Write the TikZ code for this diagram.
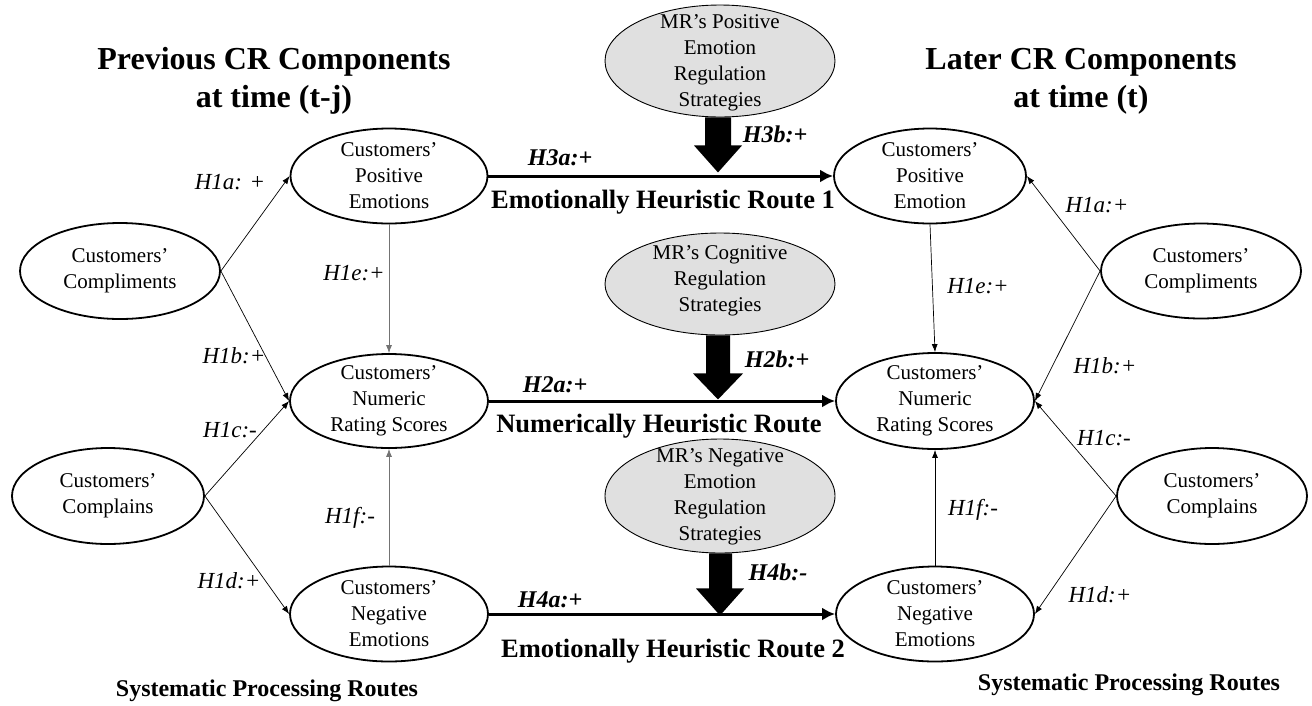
\documentclass[tikz,border=0pt]{standalone}
\usepackage{fontspec}
\setmainfont{Liberation Serif}
\usetikzlibrary{arrows.meta,shapes.geometric,calc}
\begin{document}
\begin{tikzpicture}[x=1pt,y=-1pt,
  ell/.style={draw,ellipse,line width=1.8pt,inner sep=0pt},
  mr/.style={draw,ellipse,line width=0.9pt,fill=black!12,inner sep=0pt},
  etext/.style={align=center,font=\fontsize{21}{26}\selectfont,inner sep=0pt},
  thinarr/.style={line width=0.7pt,-{Latex[length=8pt,width=6pt]}},
  vthinarr/.style={thinarr,draw=black!55},
  thickarr/.style={line width=3pt,-{Latex[length=13pt,width=13pt]}},
  hyp/.style={font=\fontsize{23}{26}\selectfont\itshape,inner sep=0pt,anchor=base},
  hypb/.style={font=\fontsize{24}{26}\selectfont\bfseries\itshape,inner sep=0pt,anchor=base},
  route/.style={font=\fontsize{26.5}{30}\selectfont\bfseries,inner sep=0pt,anchor=base},
  ttl/.style={font=\fontsize{32}{38}\selectfont\bfseries,align=center,inner sep=0pt},
  sys/.style={font=\fontsize{24}{28}\selectfont\bfseries,inner sep=0pt,anchor=base},
]
\useasboundingbox (0,0) rectangle (1312,705);

% titles
\node[ttl] (ttlL) at (274,81) {Previous CR Components\\at time (t-j)};
\node[ttl] (ttlR) at (1081,81) {Later CR Components\\at time (t)};

% left ellipses
\node[ell,minimum width=200pt,minimum height=96pt] (lcomp) at (120,271) {};
\node[etext] at (lcomp) {Customers’\\Compliments};
\node[ell,minimum width=192pt,minimum height=96pt] (lcompl) at (108,496) {};
\node[etext] at (lcompl) {Customers’\\Complains};
\node[ell,minimum width=197pt,minimum height=95pt] (lpos) at (389,176) {};
\node[etext] at (lpos) {Customers’\\Positive\\Emotions};
\node[ell,minimum width=198pt,minimum height=94pt] (lnum) at (389,401) {};
\node[etext] at (lnum) {Customers’\\Numeric\\Rating Scores};
\node[ell,minimum width=198pt,minimum height=95pt] (lneg) at (389,614) {};
\node[etext] at (lneg) {Customers’\\Negative\\Emotions};

% MR ellipses
\node[mr,minimum width=230pt,minimum height=112pt] (mrpos) at (720,61) {};
\node[etext] at (720,63) {MR’s Positive\\Emotion\\Regulation\\Strategies};
\node[mr,minimum width=230pt,minimum height=102pt] (mrcog) at (720,284) {};
\node[etext] at (720,281) {MR’s Cognitive\\Regulation\\Strategies};
\node[mr,minimum width=230pt,minimum height=114pt] (mrneg) at (720,496) {};
\node[etext] at (720,497) {MR’s Negative\\Emotion\\Regulation\\Strategies};

% right ellipses
\node[ell,minimum width=192pt,minimum height=95pt] (rpos) at (930,176) {};
\node[etext] at (rpos) {Customers’\\Positive\\Emotion};
\node[ell,minimum width=198pt,minimum height=96pt] (rnum) at (935,401) {};
\node[etext] at (rnum) {Customers’\\Numeric\\Rating Scores};
\node[ell,minimum width=198pt,minimum height=95pt] (rneg) at (935,614) {};
\node[etext] at (rneg) {Customers’\\Negative\\Emotions};
\node[ell,minimum width=200pt,minimum height=95pt] (rcomp) at (1201,271) {};
\node[etext] at (rcomp) {Customers’\\Compliments};
\node[ell,minimum width=190pt,minimum height=96pt] (rcompl) at (1212,496) {};
\node[etext] at (rcompl) {Customers’\\Complains};

% thin connectors left
\draw[thinarr] (lcomp.east) -- (lpos.west);
\draw[thinarr] (lcomp.east) -- (lnum.west);
\draw[thinarr] (lcompl.east) -- (lnum.west);
\draw[thinarr] (lcompl.east) -- (lneg.west);
\draw[vthinarr] (lpos.south) -- (lnum.north);
\draw[vthinarr] (lneg.north) -- (lnum.south);
% thin connectors right
\draw[thinarr] (rcomp.west) -- (rpos.east);
\draw[thinarr] (rcomp.west) -- (rnum.east);
\draw[thinarr] (rcompl.west) -- (rnum.east);
\draw[thinarr] (rcompl.west) -- (rneg.east);
\draw[thinarr] (rpos.south) -- (rnum.north);
\draw[thinarr] (rneg.north) -- (rnum.south);

% thick routes
\draw[thickarr] (lpos.east) -- (rpos.west);
\draw[thickarr] (lnum.east) -- (rnum.west);
\draw[thickarr] (lneg.east) -- (rneg.west);

% block arrows
\fill (mrpos.south) ++(-15,0) -- ++(26,0) -- ++(0,28) -- ++(11,0) -- ++(-24,27) -- ++(-24,-27) -- ++(11,0) -- cycle;
\fill (mrcog.south) ++(-14,0) -- ++(24,0) -- ++(0,38) -- ++(13,0) -- ++(-25,26) -- ++(-25,-26) -- ++(13,0) -- cycle;
\fill (mrneg.south) ++(-11,0) -- ++(23,0) -- ++(0,35) -- ++(12,0) -- ++(-24,27) -- ++(-24,-27) -- ++(13,0) -- cycle;

% route labels
\node[route] (rt1) at (663,208) {Emotionally Heuristic Route 1};
\node[route] (rt2) at (659,432) {Numerically Heuristic Route};
\node[route] (rt3) at (673,657) {Emotionally Heuristic Route 2};

% hypothesis labels
\node[hyp] (h1aL) at (230,189) {H1a: +};
\node[hyp] (h1eL) at (354,280) {H1e:+};
\node[hyp] (h1bL) at (234,363) {H1b:+};
\node[hyp] (h1cL) at (230,437) {H1c:-};
\node[hyp] (h1dL) at (229,588) {H1d:+};
\node[hyp] (h1fL) at (350,523) {H1f:-};
\node[hyp] (h1aR) at (1097,212) {H1a:+};
\node[hyp] (h1eR) at (978,293) {H1e:+};
\node[hyp] (h1bR) at (1105,373) {H1b:+};
\node[hyp] (h1cR) at (1104,445) {H1c:-};
\node[hyp] (h1dR) at (1100,602) {H1d:+};
\node[hyp] (h1fR) at (973,515) {H1f:-};

\node[hypb] (h3a) at (560,165) {H3a:+};
\node[hypb] (h2a) at (555,392) {H2a:+};
\node[hypb] (h4a) at (550,607) {H4a:+};
\node[hypb] (h3b) at (775,142) {H3b:+};
\node[hypb] (h2b) at (777,367) {H2b:+};
\node[hypb] (h4b) at (778,580) {H4b:-};

% bottom labels
\node[sys] (sysL) at (267,696) {Systematic Processing Routes};
\node[sys] (sysR) at (1129,690) {Systematic Processing Routes};
\end{tikzpicture}
\end{document}
